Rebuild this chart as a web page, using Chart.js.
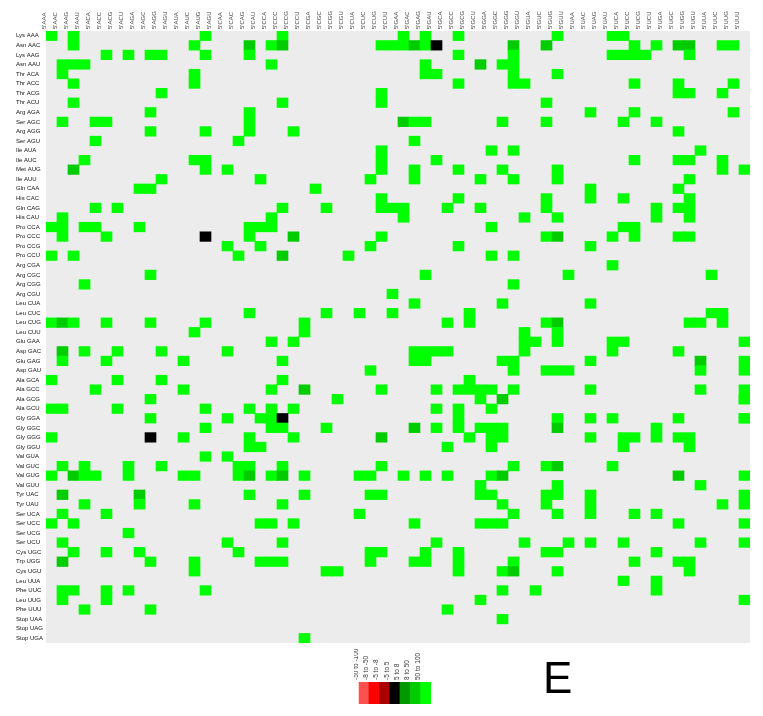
<!DOCTYPE html>
<html>
<head>
<meta charset="utf-8">
<script src="https://cdn.jsdelivr.net/npm/chart.js@4.4.1/dist/chart.umd.min.js"></script>
<style>
  html, body { margin: 0; padding: 0; background: #fff; }
  #wrap { position: relative; width: 763px; height: 716px; }
  #main { position: absolute; left: 0; top: 0; }
  #key { position: absolute; left: 354px; top: 645px; }
  #panel { position: absolute; left: 543px; top: 656px; font: 44px 'Liberation Sans', Arial, sans-serif; line-height: 44px; color: #000; }
</style>
</head>
<body>
<div id="wrap">
  <canvas id="main" width="763" height="716"></canvas>
  <canvas id="key" width="77" height="59"></canvas>
  <div id="panel">E</div>
</div>
<script>
// codon columns (5' codon) and tRNA rows
var codons = ["5'AAA","5'AAC","5'AAG","5'AAU","5'ACA","5'ACC","5'ACG","5'ACU","5'AGA","5'AGC","5'AGG","5'AGU",
  "5'AUA","5'AUC","5'AUG","5'AGU","5'CAA","5'CAC","5'CAG","5'CAU","5'CCA","5'CCC","5'CCG","5'CCU",
  "5'CGA","5'CGC","5'CGG","5'CGU","5'CUA","5'CUC","5'CUG","5'CUU","5'GAA","5'GAC","5'GAG","5'GAU",
  "5'GCA","5'GCC","5'GCG","5'GCU","5'GGA","5'GGC","5'GGG","5'GGU","5'GUA","5'GUC","5'GUG","5'GUU",
  "5'UAA","5'UAC","5'UAG","5'UAU","5'UCA","5'UCC","5'UCG","5'UCU","5'UGA","5'UGC","5'UGG","5'UGU",
  "5'UUA","5'UUC","5'UUG","5'UUU"];

var trnas = ['Lys AAA','Asn AAC','Lys AAG','Asn AAU','Thr ACA','Thr ACC','Thr ACG','Thr ACU',
  'Arg AGA','Ser AGC','Arg AGG','Ser AGU','Ile AUA','Ile AUC','Met AUG','Ile AUU',
  'Gln CAA','His CAC','Gln CAG','His CAU','Pro CCA','Pro CCC','Pro CCG','Pro CCU',
  'Arg CGA','Arg CGC','Arg CGG','Arg CGU','Leu CUA','Leu CUC','Leu CUG','Leu CUU',
  'Glu GAA','Asp GAC','Glu GAG','Asp GAU','Ala GCA','Ala GCC','Ala GCG','Ala GCU',
  'Gly GGA','Gly GGC','Gly GGG','Gly GGU','Val GUA','Val GUC','Val GUG','Val GUU',
  'Tyr UAC','Tyr UAU','Ser UCA','Ser UCC','Ser UCG','Ser UCU','Cys UGC','Trp UGG',
  'Cys UGU','Leu UUA','Phe UUC','Leu UUG','Phe UUU','Stop UAA','Stop UAG','Stop UGA'];

var bins = ['-50 to -100', '-8 to -50', '-5 to -8', '-5 to 5', '5 to 8', '8 to 50', '50 to 100'];
var binColors = ['#ff5050', '#ff0000', '#a80000', '#000000', '#009a00', '#00cc00', '#00ff00'];

// filled cells per tRNA row (codon column indexes); default bin is "50 to 100"
var rowHits = [
  [0,2,14,21,32,34,37,46,51,52],
  [2,13,18,20,21,30,31,32,33,34,35,42,45,53,55,57,58,61,62],
  [5,7,9,10,14,18,37,42,51,52,53,54,58],
  [1,2,3,20,34,39,41,42],
  [1,13,34,35,42,46],
  [2,13,37,42,43,53,57,62],
  [10,30,57,58,61],
  [2,21,30,45],
  [9,18,49,53,62],
  [1,4,5,18,32,33,34,41,45,52,55],
  [9,14,18,22,57],
  [4,17,33],
  [30,40,42,59],
  [3,13,14,30,35,53,57,58,61],
  [2,14,16,30,33,37,41,46,61,63],
  [10,19,29,33,39,42,46,58],
  [8,9,24,49,57],
  [30,37,45,49,52,58],
  [4,6,21,25,30,31,32,36,39,45,55,57,58],
  [1,20,32,43,46,55,58],
  [0,1,3,4,8,18,19,20,40,52,53],
  [1,5,14,18,22,30,45,46,51,53,57,58],
  [16,19,29,37,49],
  [0,2,17,21,27,40,42],
  [51],
  [9,34,47,60],
  [3,42],
  [31],
  [33,41,49],
  [18,25,28,31,38,60,61],
  [0,1,2,5,9,14,23,36,38,45,46,58,59,61],
  [13,23,43,46],
  [15,20,22,43,44,46,51,52],
  [1,3,6,10,16,33,34,35,36,43,51,57],
  [1,5,12,15,21,33,34,41,42,49,59],
  [11,29,42,45,46,47,59],
  [0,6,10,21,38],
  [4,11,12,20,23,30,35,37,38,39,40,42,49,59],
  [9,15,26,39,41,63],
  [0,1,6,14,18,20,22,35,37,40],
  [9,11,15,16,19,20,21,37,46,49,51,57],
  [14,20,21,25,33,35,37,39,40,41,46,55],
  [0,9,12,18,22,30,38,40,41,49,52,53,55,57,58],
  [18,19,36,40,52,58],
  [14,16],
  [1,3,7,10,17,18,21,30,42,45,46,51],
  [0,2,3,4,7,12,13,15,17,18,20,21,23,28,29,32,34,36,40,41,57],
  [39,46,59],
  [1,8,18,23,29,30,39,40,45,46,49,63],
  [3,8,13,15,21,41,45,49,61],
  [1,5,28,42,46,49,53,55],
  [0,2,15,19,20,22,33,39,40,41,57],
  [7],
  [1,15,16,21,35,43,47,49,52,59],
  [2,5,8,17,29,30,34,37,45,46,55],
  [1,9,13,19,20,21,29,33,34,37,42,53,57,58],
  [13,25,26,37,41,42,46,58],
  [52,55],
  [1,2,5,7,14,41,44,55],
  [1,5,15,39],
  [3,9,36],
  [41],
  [],
  [23]
];

// cells in the "8 to 50" bin, [row, column]
var mid = [[1,18],[1,21],[1,33],[1,42],[1,45],[1,57],[1,58],[3,39],[9,32],[14,2],[21,22],[21,46],
  [23,21],[30,1],[30,46],[33,1],[34,59],[37,23],[38,41],[41,33],[41,46],[42,30],[45,46],[46,2],
  [46,18],[46,21],[46,41],[46,57],[48,1],[48,8],[55,1],[56,42]];
// cells in the "-5 to 5" bin
var neutral = [[1,35],[21,14],[40,21],[42,9]];

var fontFamily = "'Liberation Sans', Arial, sans-serif";

function binOf(r, c) {
  var has = function (list) { return list.some(function (p) { return p[0] === r && p[1] === c; }); };
  if (has(neutral)) return 3;
  if (has(mid)) return 5;
  return 6;
}

var cells = [];
rowHits.forEach(function (cols, r) {
  cols.forEach(function (c) {
    cells.push({x: codons[c], y: [r - 0.5, r + 0.5], bin: binOf(r, c)});
  });
});

var plotBg = {
  id: 'plotBg',
  beforeDatasetsDraw: function (chart) {
    var a = chart.chartArea, ctx = chart.ctx;
    ctx.save();
    ctx.fillStyle = '#ececec';
    ctx.fillRect(a.left, a.top, a.right - a.left, a.bottom - a.top);
    ctx.restore();
  }
};

new Chart(document.getElementById('main'), {
  type: 'bar',
  data: {
    labels: codons,
    datasets: [{
      data: cells,
      backgroundColor: function (ctx) { return binColors[ctx.raw.bin]; },
      borderWidth: 0,
      barPercentage: 1,
      categoryPercentage: 1
    }]
  },
  options: {
    responsive: false,
    animation: false,
    layout: {padding: {left: 16, right: 13, top: 0, bottom: 73}},
    plugins: {legend: {display: false}, tooltip: {enabled: false}},
    scales: {
      x: {
        position: 'top',
        grid: {display: false, drawTicks: false},
        border: {display: false},
        ticks: {autoSkip: false, minRotation: 90, maxRotation: 90, padding: 2,
          color: '#444', font: {size: 6, family: fontFamily}},
        afterFit: function (s) { s.height = 31; }
      },
      y: {
        type: 'linear',
        reverse: true,
        min: -0.5,
        max: 63.5,
        grid: {display: false, drawTicks: false},
        border: {display: false},
        afterBuildTicks: function (s) { s.ticks = trnas.map(function (t, i) { return {value: i}; }); },
        ticks: {autoSkip: false, crossAlign: 'far', padding: 0, color: '#111',
          font: {size: 6, family: fontFamily},
          callback: function (v) { return trnas[v]; }},
        afterFit: function (s) { s.width = 30; }
      }
    }
  },
  plugins: [plotBg]
});

// colour key
new Chart(document.getElementById('key'), {
  type: 'bar',
  data: {
    labels: bins,
    datasets: [{
      data: bins.map(function () { return 1; }),
      backgroundColor: binColors,
      borderWidth: 0,
      barPercentage: 1,
      categoryPercentage: 1
    }]
  },
  options: {
    responsive: false,
    animation: false,
    plugins: {legend: {display: false}, tooltip: {enabled: false}},
    scales: {
      x: {
        position: 'top',
        grid: {display: false, drawTicks: false},
        border: {display: false},
        ticks: {autoSkip: false, minRotation: 90, maxRotation: 90, padding: 2,
          color: '#333', font: {size: 6.5, family: fontFamily}},
        afterFit: function (s) { s.height = 37; }
      },
      y: {display: false, min: 0, max: 1}
    }
  }
});
</script>
</body>
</html>
